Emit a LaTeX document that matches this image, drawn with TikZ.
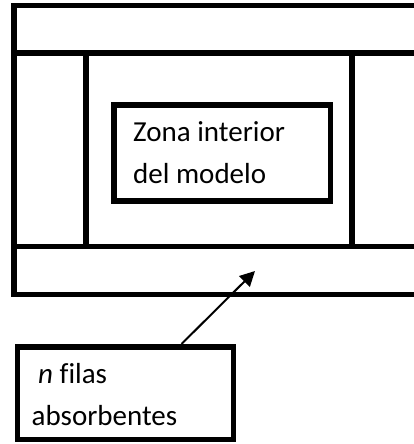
\documentclass[tikz,border=0pt]{standalone}
\usepackage{fontspec}
\setmainfont{Carlito}[Ligatures=NoCommon]
\usetikzlibrary{arrows.meta}
\begin{document}
\begin{tikzpicture}[x=1pt,y=-1pt,
  frame/.style={line width=5.5pt,line join=miter},
  boxnode/.style={draw,line width=5.5pt,anchor=north west,inner sep=0pt},
  txt/.style={anchor=base west,inner sep=0pt,font=\fontsize{29}{42}\selectfont},
  pointer/.style={line width=2pt,-{Triangle[length=15pt,width=15pt]}}]
\useasboundingbox (0,0) rectangle (414,444);
\clip (0,0) rectangle (414,444);
% outer frame (right side runs off the picture)
\draw[frame] (425,5.5) -- (14,5.5) -- (14,294.5) -- (425,294.5);
\draw[frame] (14,53) -- (425,53);
\draw[frame] (14,246.5) -- (425,246.5);
\draw[frame] (86,53) -- (86,246.5);
\draw[frame] (352,53) -- (352,246.5);
% interior zone
\node[boxnode,minimum width=216.5pt,minimum height=96pt] (zona) at (111,102) {};
\node[txt] (z1) at (133,141.7) {Zona interior};
\node[txt] (z2) at (133,183.3) {del modelo};
% absorbing rows box
\node[boxnode,minimum width=216pt,minimum height=92.5pt] (absorb) at (14.5,344) {};
\node[txt] (a1) at (38,383.3) {\textit{n} filas};
\node[txt] (a2) at (31.5,425) {absorbentes};
\coordinate (tip) at (255,271);
\draw[pointer] ([xshift=167pt]absorb.north west) -- (tip);
\end{tikzpicture}
\end{document}
